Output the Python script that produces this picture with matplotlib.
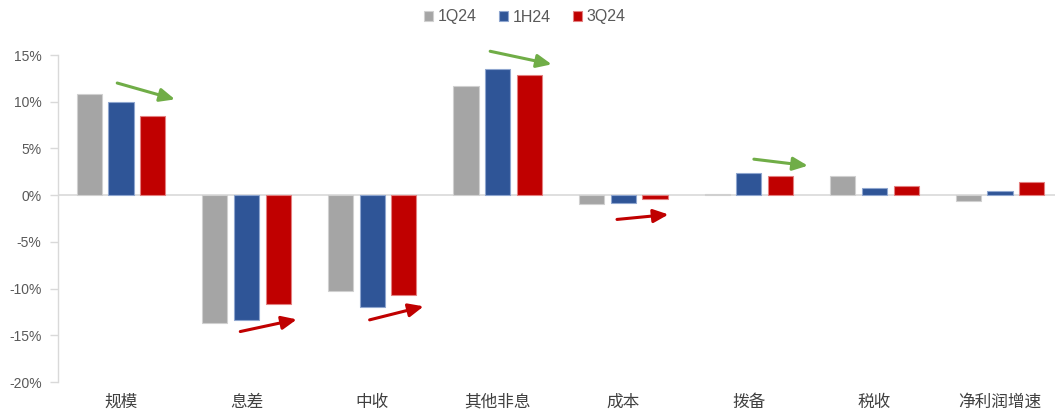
import matplotlib
matplotlib.use("Agg")
import matplotlib.pyplot as plt
import numpy as np

plt.rcParams['font.family'] = ['Liberation Sans', 'Noto Sans CJK SC', 'DejaVu Sans']

categories = ["规模", "息差", "中收", "其他非息", "成本", "拨备", "税收", "净利润增速"]
series_names = ["1Q24", "1H24", "3Q24"]
q1_24 = [10.8, -13.7, -10.3, 11.7, -0.9, 0.15, 2.0, -0.6]
h1_24 = [10.0, -13.4, -12.0, 13.5, -0.8, 2.4, 0.8, 0.4]
q3_24 = [8.5, -11.7, -10.7, 12.9, -0.4, 2.0, 1.0, 1.4]
colors = ["#A5A5A5", "#2F5597", "#C00000"]
edge_colors = ["#D0D0D0", "#8FA6CF", "#E38080"]

y_ticks = [15, 10, 5, 0, -5, -10, -15, -20]

# trend arrows: (start, end, colour) in data units
trend_arrows = [
    ((-0.03, 12.0), (0.43, 10.25), "#70AD47"),
    ((2.94, 15.4), (3.43, 14.0), "#70AD47"),
    ((5.04, 3.85), (5.47, 3.15), "#70AD47"),
    ((0.95, -14.6), (1.40, -13.3), "#C00000"),
    ((1.98, -13.35), (2.41, -11.9), "#C00000"),
    ((3.95, -2.6), (4.36, -2.07), "#C00000"),
]

fig = plt.figure(figsize=(10.55, 4.11), dpi=100)
ax = fig.add_axes([58.2 / 1055, 29 / 411, (1062.8 - 58.2) / 1055, 327 / 411])

x = np.arange(len(categories))
step = 0.2525
width = 0.2
for k, (vals, c, ec, name) in enumerate(zip([q1_24, h1_24, q3_24], colors, edge_colors, series_names)):
    ax.bar(x + (k - 1) * step, vals, width=width, color=c, edgecolor=ec,
           linewidth=0.8, label=name, zorder=3)

ax.set_xlim(-0.5, len(categories) - 0.5)
ax.set_ylim(-20, 15)
ax.axhline(0, color="#D9D9D9", linewidth=1.2, zorder=2)

ax.set_yticks(y_ticks)
ax.set_yticklabels([f"{t}%" for t in y_ticks])
ax.tick_params(axis='y', length=6, width=1, color="#D9D9D9", pad=6,
               labelsize=10, labelcolor="#595959")
ax.set_xticks(x)
ax.set_xticklabels(categories)
ax.tick_params(axis='x', length=0, pad=8.5, labelsize=12, labelcolor="#404040")
for lbl in ax.get_xticklabels():
    lbl.set_fontfamily(['Noto Sans CJK SC', 'DejaVu Sans'])

for side in ["top", "right", "bottom"]:
    ax.spines[side].set_visible(False)
ax.spines["left"].set_color("#D9D9D9")
ax.spines["left"].set_linewidth(1)

for (x0, y0), (x1, y1), c in trend_arrows:
    ax.annotate("", xy=(x1, y1), xytext=(x0, y0), annotation_clip=False,
                arrowprops=dict(arrowstyle="-|>,head_length=0.9,head_width=0.4",
                                color=c, lw=2.2, shrinkA=0, shrinkB=0),
                zorder=5)

leg = fig.legend(loc="center", bbox_to_anchor=(525 / 1055, 1 - 17 / 411), ncol=3,
                 frameon=False, fontsize=11.5, handlelength=0.55, handleheight=0.55,
                 handletextpad=0.3, columnspacing=1.4)
for t in leg.get_texts():
    t.set_color("#595959")

fig.savefig("out.png", dpi=100)
